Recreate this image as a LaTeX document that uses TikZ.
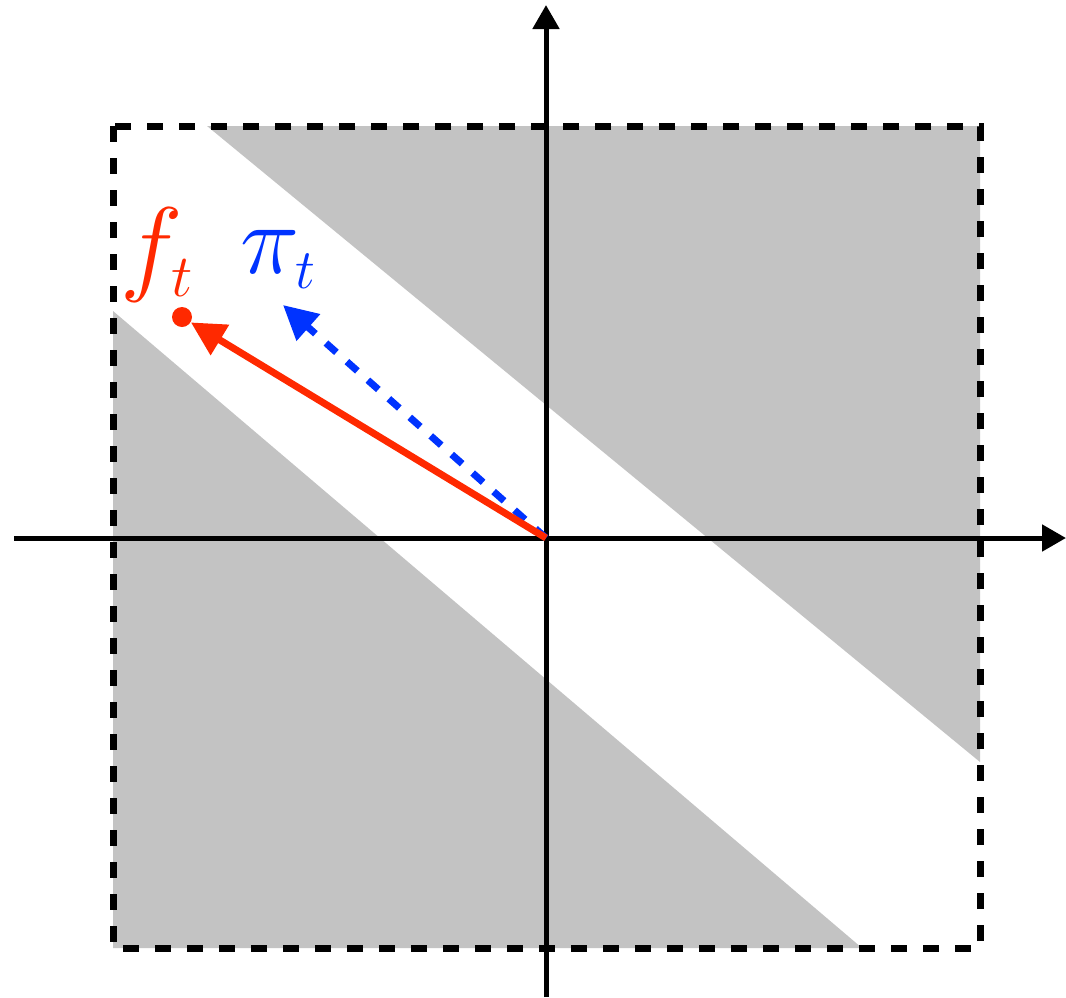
\RequirePackage{fix-cm}
\documentclass[tikz,border=0pt]{standalone}
\usetikzlibrary{arrows.meta}
\DeclareMathSizes{53}{53}{30}{22}
\DeclareMathSizes{50}{50}{28}{20}
\definecolor{bandgray}{RGB}{195,195,195}
\definecolor{fred}{RGB}{255,41,0}
\definecolor{piblue}{RGB}{0,51,255}
\tikzset{
  axis/.style={line width=2.5pt,-{Triangle[length=12pt,width=13pt]}},
  frame/.style={line width=3.5pt,dash pattern=on 8pt off 8pt},
  fline/.style={fred,line width=3.5pt,-{Triangle[length=17pt,width=17pt]}},
  piline/.style={piblue,line width=3.5pt,dash pattern=on 7pt off 7pt,-{Triangle[length=17pt,width=17pt]}},
  dotnode/.style={circle,fill=fred,inner sep=0pt,minimum size=10pt},
  lab/.style={inner sep=0pt,anchor=base west}
}
\begin{document}
\begin{tikzpicture}[x=0.5pt,y=-0.5pt]
\useasboundingbox (0,0) rectangle (1066,997);
% gray regions
\fill[bandgray] (207,126) -- (980,126) -- (980,762) -- cycle;
\fill[bandgray] (113,311) -- (113,948) -- (862,948) -- cycle;
% dashed frame
\draw[frame] (113,126) rectangle (980,948);
% axes
\coordinate (O) at (546,538);
\coordinate (xl) at (14,538);
\coordinate (xr) at (1066,538);
\coordinate (yb) at (546,997);
\coordinate (yt) at (546,5);
\draw[axis] (xl) -- (xr);
\draw[axis] (yb) -- (yt);
% vectors
\node[dotnode] (ft) at (182,317) {};
\coordinate (pi) at (283,305);
\draw[piline] (O) -- (pi);
\draw[fline] (O) -- (ft);
% labels
\node[lab,text=fred,font=\fontsize{53}{60}\selectfont] (flab) at (120,281) {$f_t$};
\node[lab,text=piblue,font=\fontsize{50}{60}\selectfont] (pilab) at (240,273) {$\pi_t$};
\end{tikzpicture}
\end{document}
